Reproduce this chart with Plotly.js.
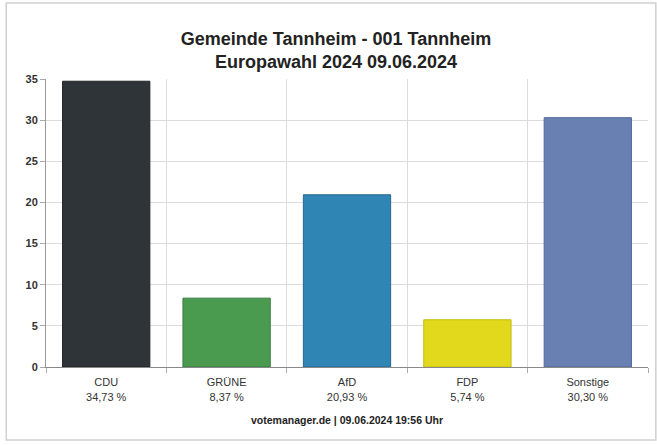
<!DOCTYPE html>
<html>
<head>
<meta charset="utf-8">
<script src="https://cdn.plot.ly/plotly-3.0.1.min.js"></script>
<style>html,body{margin:0;padding:0;background:#fff;}#chart{width:657px;height:445px;}</style>
</head>
<body>
<div id="chart"></div>
<script>
const parties = ["CDU", "GRÜNE", "AfD", "FDP", "Sonstige"];
const shares = [34.73, 8.37, 20.93, 5.74, 30.30];
const shareLabels = ["34,73 %", "8,37 %", "20,93 %", "5,74 %", "30,30 %"];
const colors = ["#2e3438", "#4a9a50", "#2f86b5", "#e3d91c", "#6880b2"];
const lineColors = ["#202427", "#3a7d3f", "#236a90", "#c4bb10", "#54699a"];
const yTicks = [0, 5, 10, 15, 20, 25, 30, 35];

const tickText = parties.map((p, i) => p + "<br>" + shareLabels[i]);
const fontFam = "Liberation Sans, Arial, sans-serif";

const trace = {
  type: "bar",
  x: parties,
  y: shares,
  marker: { color: colors, line: { color: lineColors, width: 1 } },
  hoverinfo: "x+y"
};

const layout = {
  width: 657, height: 445,
  margin: { l: 46, r: 9, t: 79, b: 78 },
  paper_bgcolor: "#ffffff",
  plot_bgcolor: "#ffffff",
  showlegend: false,
  bargap: 0.275,
  font: { family: fontFam, color: "#333" },
  title: {
    text: "<b>Gemeinde Tannheim - 001 Tannheim<br>Europawahl 2024 09.06.2024</b>",
    font: { size: 18, color: "#222", family: fontFam },
    x: (336 - 46) / 602, xanchor: "center", xref: "paper",
    y: 0.90, yanchor: "top", yref: "container"
  },
  xaxis: {
    type: "category",
    tickvals: parties,
    ticktext: tickText,
    tickson: "boundaries",
    ticks: "outside", ticklen: 5, tickcolor: "#aaa",
    ticklabelstandoff: 5,
    showgrid: true, gridcolor: "#dcdcdc", gridwidth: 1,
    showline: true, linecolor: "#888", linewidth: 1,
    tickfont: { size: 11, color: "#333", family: fontFam },
    fixedrange: true
  },
  yaxis: {
    range: [0, 35],
    tickvals: yTicks,
    ticktext: yTicks.map(v => "<b>" + v + "</b>"),
    ticks: "outside", ticklen: 5, tickcolor: "#aaa",
    showgrid: true, gridcolor: "#dcdcdc", gridwidth: 1,
    showline: true, linecolor: "#999", linewidth: 1,
    zeroline: false,
    tickfont: { size: 11, color: "#333", family: fontFam },
    fixedrange: true
  },
  shapes: [{
    type: "rect", xref: "paper", yref: "paper",
    x0: -0.066, x1: 1.013, y0: -0.2535, y1: 1.264,
    line: { color: "#cfcfcf", width: 1.5 }, fillcolor: "rgba(0,0,0,0)", layer: "below"
  }],
  annotations: [{
    text: "<b>votemanager.de | 09.06.2024 19:56 Uhr</b>",
    xref: "paper", yref: "paper",
    x: (347 - 46) / 602, y: (367 - 420) / 288,
    xanchor: "center", yanchor: "middle",
    showarrow: false,
    font: { size: 10.5, color: "#222", family: fontFam }
  }]
};

Plotly.newPlot("chart", [trace], layout, { displayModeBar: false, staticPlot: true });
</script>
</body>
</html>
